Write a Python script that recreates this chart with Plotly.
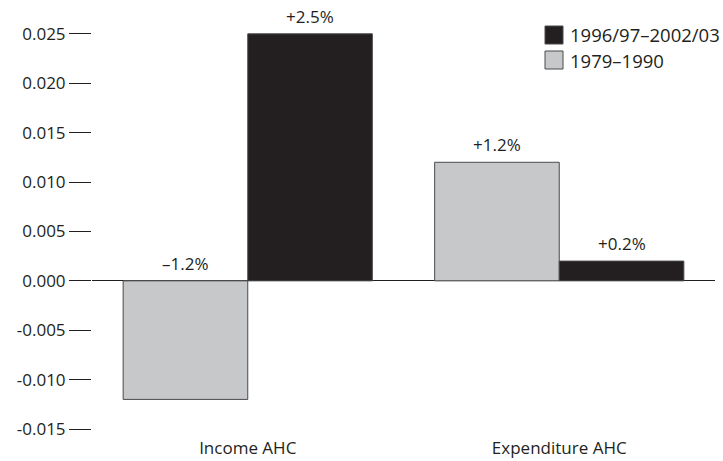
import plotly.graph_objects as go

# Average annual change in inequality measures, by period
categories = ["Income AHC", "Expenditure AHC"]
series_names = ["1979–1990", "1996/97–2002/03"]
values_1979_1990 = [-0.012, 0.012]
values_1996_2003 = [0.025, 0.002]
tick_values = [-0.015, -0.010, -0.005, 0.0, 0.005, 0.010, 0.015, 0.020, 0.025]
tick_labels = ["-0.015", "-0.010", "-0.005", "0.000", "0.005", "0.010", "0.015", "0.020", "0.025"]

INK = "#231f20"
GREY = "#c7c8ca"
EDGE = "#4a4a4c"
FONT = "Open Sans"

W, H = 723, 461
M_L, M_R, M_T, M_B = 92, 8, 19, 27
PW, PH = W - M_L - M_R, H - M_T - M_B


def px_to_paper(x, y):
    return (x - M_L) / PW, (H - M_B - y) / PH


def pct_label(v):
    s = f"{abs(v) * 100:.1f}%"
    return ("+" if v >= 0 else "–") + s


fig = go.Figure()
series = [(series_names[0], values_1979_1990, GREY), (series_names[1], values_1996_2003, INK)]
for name, vals, col in series:
    fig.add_trace(go.Bar(
        x=categories, y=vals, name=name, showlegend=False,
        marker=dict(color=col, line=dict(color=EDGE, width=1)),
    ))

# value labels above each bar (or above the zero line for negative bars)
annotations = []
for i, (name, vals, col) in enumerate(series):
    for j, v in enumerate(vals):
        annotations.append(dict(
            x=j + (-0.2 if i == 0 else 0.2), xref="x", y=max(v, 0), yref="y",
            text=pct_label(v), showarrow=False, yanchor="bottom", yshift=4,
            font=dict(family=FONT, size=17, color=INK),
        ))

# legend drawn as swatches with text
shapes = []
legend_rows = [(series_names[1], INK, 35), (series_names[0], GREY, 60)]
for name, col, yc in legend_rows:
    x0, y0 = px_to_paper(545, yc - 9)
    x1, y1 = px_to_paper(563, yc + 9)
    shapes.append(dict(type="rect", xref="paper", yref="paper", x0=x0, x1=x1, y0=y1, y1=y0,
                       fillcolor=col, line=dict(color=EDGE, width=1)))
    tx, ty = px_to_paper(568, yc)
    annotations.append(dict(x=tx, y=ty, xref="paper", yref="paper", text=name, showarrow=False,
                            xanchor="left", yanchor="middle",
                            font=dict(family=FONT, size=18.5, color=INK)))

fig.update_layout(
    width=W, height=H,
    margin=dict(l=M_L, r=M_R, t=M_T, b=M_B, pad=0, autoexpand=False),
    paper_bgcolor="white", plot_bgcolor="white",
    barmode="group", bargap=0.2, bargroupgap=0,
    showlegend=False,
    font=dict(family=FONT, size=17, color=INK),
    annotations=annotations, shapes=shapes,
)
fig.update_xaxes(
    range=[-0.5, 1.5], showgrid=False, showline=False, ticks="",
    ticklabelstandoff=2, automargin=False,
    tickfont=dict(family=FONT, size=17, color=INK),
)
fig.update_yaxes(
    range=[-0.0155, 0.0265], showgrid=False, showline=False, automargin=False,
    zeroline=True, zerolinecolor=INK, zerolinewidth=1,
    tickmode="array", tickvals=tick_values, ticktext=tick_labels,
    ticks="outside", ticklen=22, tickwidth=1, tickcolor=INK,
    tickfont=dict(family=FONT, size=17, color=INK),
)

fig.write_html("out.html")
